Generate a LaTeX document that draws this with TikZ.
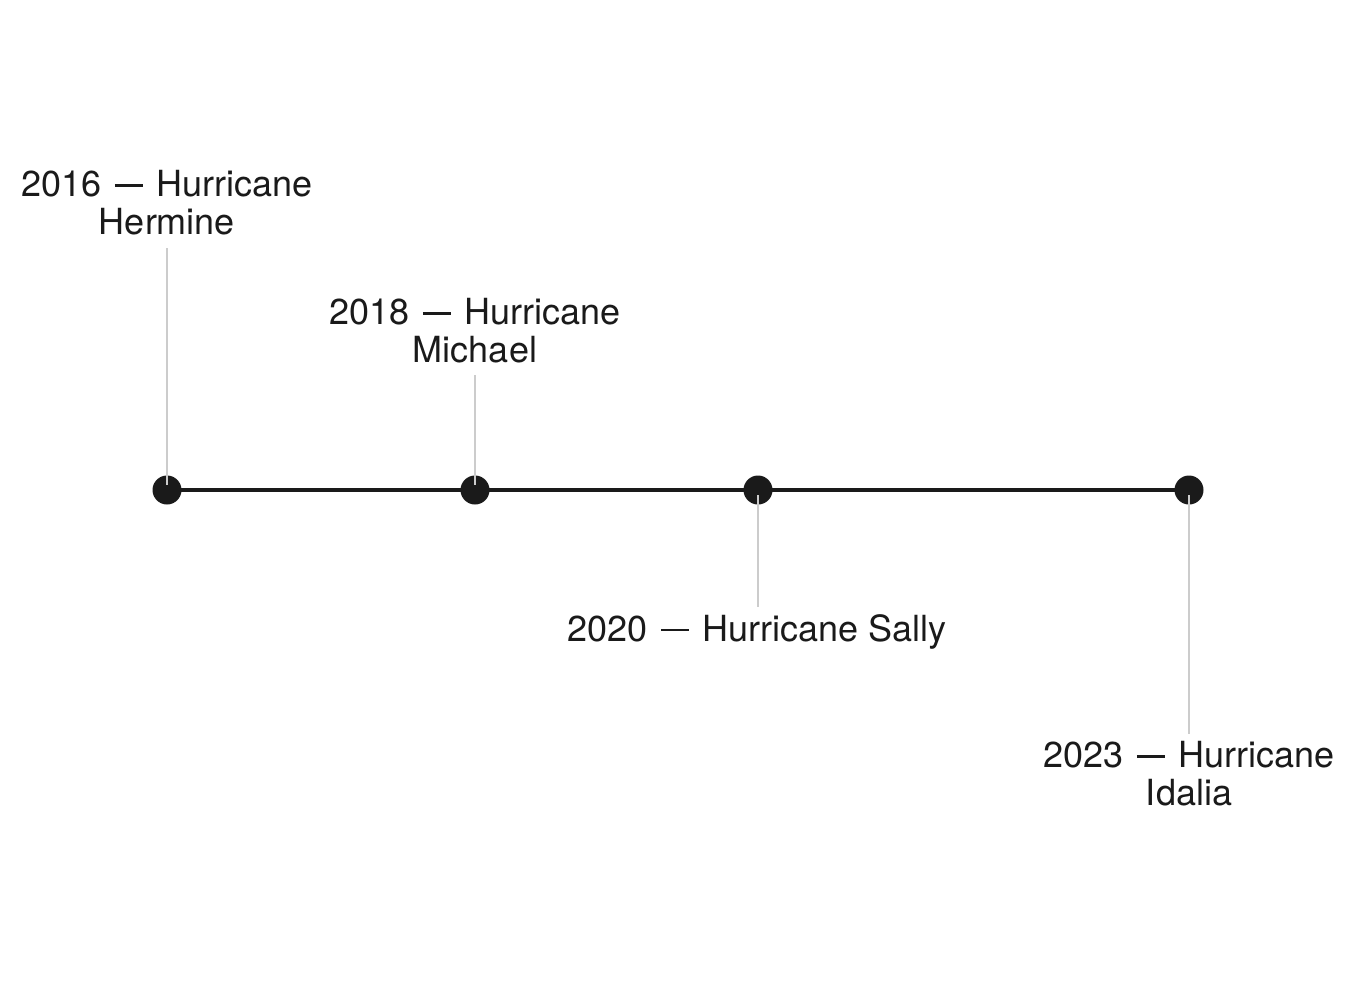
\documentclass[tikz,border=0pt]{standalone}
\usepackage{fontspec}
\setmainfont{TeX Gyre Heros}
\definecolor{ink}{HTML}{1A1A1A}
\definecolor{leadgray}{HTML}{CCCCCC}
\newcommand\tldash{\hspace{0.38em}\rule[0.27em]{0.78em}{0.07em}\hspace{0.38em}}
\begin{document}
\begin{tikzpicture}[x=1pt,y=-1pt,
  dot/.style={circle,fill=ink,inner sep=0pt,minimum size=29pt},
  axis/.style={draw=ink,line width=4pt},
  leader/.style={draw=leadgray,line width=2pt},
  lbl/.style={text=ink,align=center,inner sep=0pt,font=\fontsize{36}{38}\selectfont}]
\useasboundingbox[fill=white] (0,0) rectangle (1356,980);
\coordinate (p1) at (167,490);
\coordinate (p4) at (1189,490);
\draw[axis] (p1) -- (p4);
\node[dot] (d1) at (167,490) {};
\node[dot] (d2) at (475,490) {};
\node[dot] (d3) at (758,490) {};
\node[dot] (d4) at (1189,490) {};
\node[lbl,anchor=north] (h) at (167,170) {2016\tldash Hurricane\\Hermine};
\node[lbl,anchor=north] (m) at (475,298) {2018\tldash Hurricane\\Michael};
\node[lbl,anchor=north] (s) at (757,614) {2020\tldash Hurricane Sally};
\node[lbl,anchor=north] (i) at (1189,741) {2023\tldash Hurricane\\Idalia};
\draw[leader,shorten <=13pt,shorten >=5pt] (h.south) -- (d1.center);
\draw[leader,shorten <=12pt,shorten >=5pt] (m.south) -- (d2.center);
\draw[leader,shorten <=5pt,shorten >=7pt] (d3.center) -- (s.north -| d3.center);
\draw[leader,shorten <=5pt,shorten >=7pt] (d4.center) -- (i.north);
\end{tikzpicture}
\end{document}
